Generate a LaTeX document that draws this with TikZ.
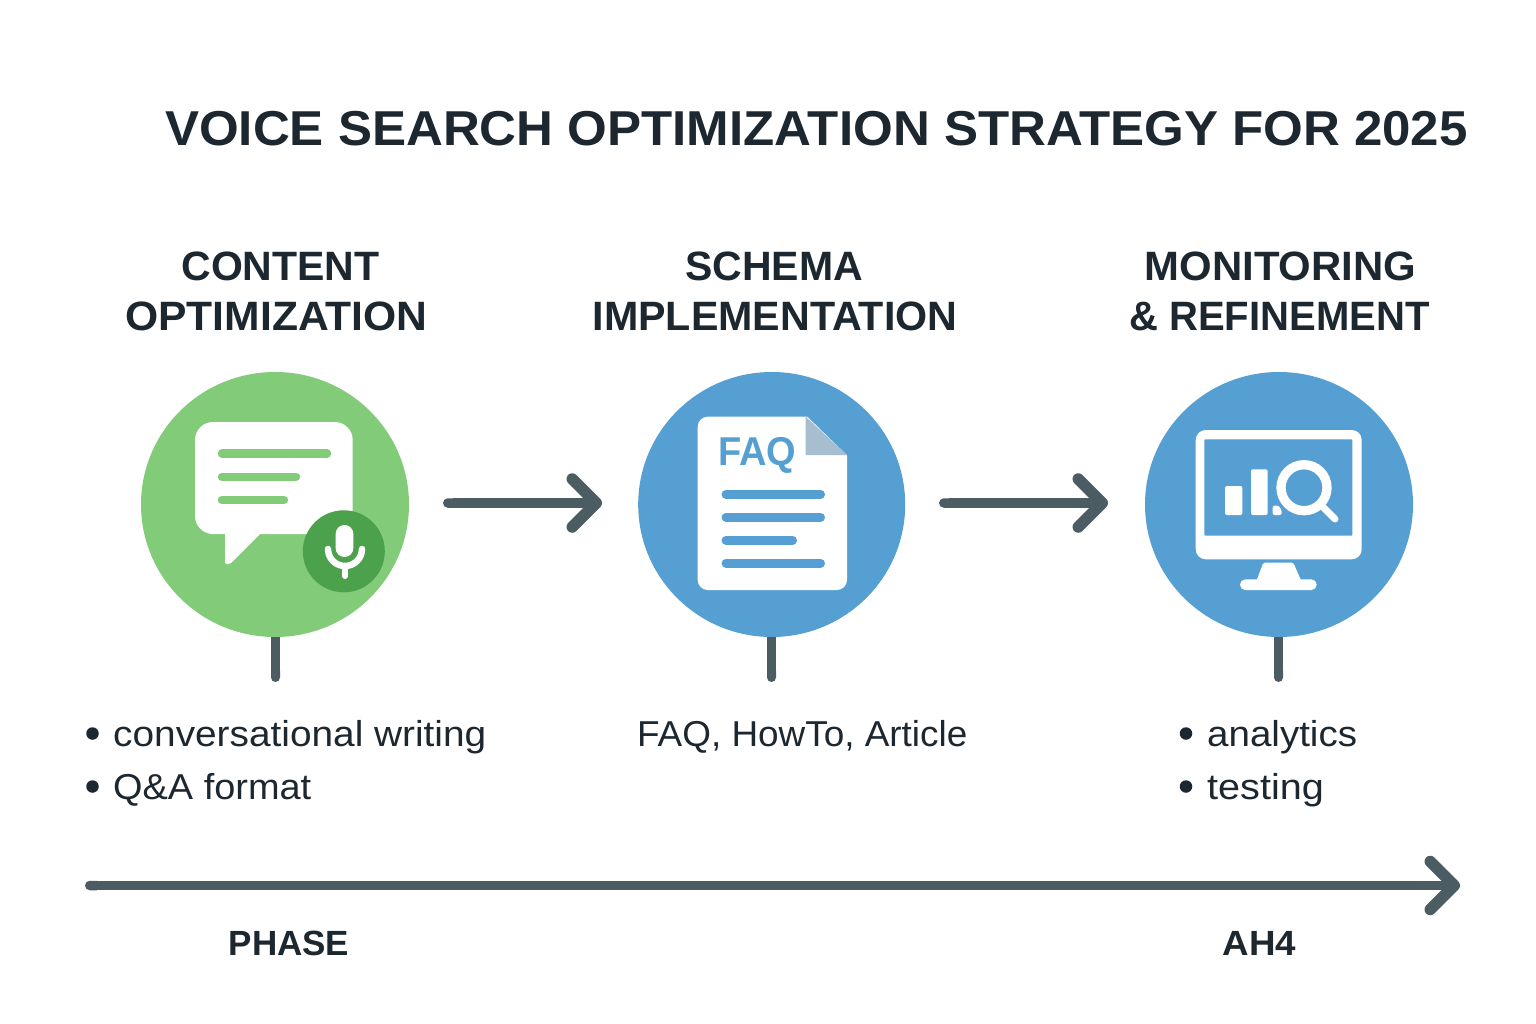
\documentclass[tikz,border=0pt]{standalone}
\usepackage{fontspec}
\usepackage{graphicx}
\usetikzlibrary{arrows.meta,shapes.geometric}
\setmainfont{Liberation Sans}
\newcommand{\xs}[2]{\scalebox{#1}[1]{#2}}
\definecolor{ink}{HTML}{1D2730}
\definecolor{slate}{HTML}{4C5C63}
\definecolor{greenc}{HTML}{82CB78}
\definecolor{greend}{HTML}{4CA14C}
\definecolor{bluec}{HTML}{569FD2}
\definecolor{foldc}{HTML}{A7BDD0}
\tikzset{
 disc/.style={ellipse,inner sep=0pt,minimum width=#1,minimum height=265pt,draw=none},
 flow/.style={draw=slate,line width=9.5pt,line join=round,{Round Cap[]}-{Straight Barb[length=24pt,width=48pt,round,line width=11.5pt]}},
 stem/.style={draw=slate,line width=9pt,-{Round Cap[]}},
 iconline/.style={line width=#1,line cap=round},
 head/.style={font=\fontsize{41}{49}\selectfont\bfseries,text=ink,inner sep=0pt,anchor=base},
 title/.style={font=\fontsize{49}{58}\selectfont\bfseries,text=ink,inner sep=0pt,anchor=base west},
 body/.style={font=\fontsize{36}{53}\selectfont,text=ink,inner sep=0pt,anchor=base west},
 foot/.style={font=\fontsize{35}{42}\selectfont\bfseries,text=ink,inner sep=0pt,anchor=base},
 dot/.style={circle,fill=ink,inner sep=0pt,minimum size=12.5pt}
}
\begin{document}
\begin{tikzpicture}[x=1pt,y=-1pt]
\useasboundingbox (0,0) rectangle (1536,1024);
\fill[white] (0,0) rectangle (1536,1024);
\node[title] (ttl) at (165,146) {\xs{1.0416}{VOICE SEARCH OPTIMIZATION STRATEGY FOR 2025}};
\node[head] (h1a) at (280.5,280) {CONTENT};
\node[head] (h1b) at (276.5,330) {\xs{1.04}{OPTIMIZATION}};
\node[head] (h2a) at (774,280) {SCHEMA};
\node[head] (h2b) at (775,330) {\xs{1.005}{IMPLEMENTATION}};
\node[head] (h3a) at (1280.5,280) {\xs{1.022}{MONITORING}};
\node[head] (h3b) at (1279.5,330) {\xs{0.977}{\& REFINEMENT}};
% circles and stems
\coordinate (s1) at (275.5,682);
\coordinate (s2) at (771.5,682);
\coordinate (s3) at (1278.5,682);
\node[disc=268pt,fill=greenc] (c1) at (275,504.5) {};
\node[disc=267pt,fill=bluec] (c2) at (771.7,504.5) {};
\node[disc=268pt,fill=bluec] (c3) at (1279,504.5) {};
\draw[stem] (c1.south -| s1) -- (s1);
\draw[stem] (c2.south -| s2) -- (s2);
\draw[stem] (c3.south -| s3) -- (s3);
% flow arrows
\coordinate (a1) at (443,503); \coordinate (a2) at (602,503);
\coordinate (b1) at (939,503); \coordinate (b2) at (1108,503);
\coordinate (t1) at (85,885.5); \coordinate (t2) at (1460,885.5);
\draw[flow] (a1) -- (a2);
\draw[flow] (b1) -- (b2);
\draw[flow] (t1) -- (t2);
% chat icon
\fill[white,rounded corners=18pt] (195,422) rectangle (352.7,534);
\fill[white,rounded corners=1.5pt] (225,530) -- (225,564) -- (230,564) -- (264,530) -- cycle;
\draw[greenc,iconline=8.5pt] (222,453.5) -- (327,453.5);
\draw[greenc,iconline=8.5pt] (222,477) -- (296,477);
\draw[greenc,iconline=8.5pt] (222,500) -- (284,500);
\node[circle,inner sep=0pt,minimum size=82pt,fill=greend] (mic) at (343.8,551.3) {};
\fill[white,rounded corners=8.7pt] (335.7,525) rectangle (353.3,557);
\draw[white,line width=6.5pt,line cap=round] (328,549) arc[start angle=180,end angle=0,radius=17];
\draw[white,line width=6pt,line cap=round] (345,566) -- (345,576);
% FAQ icon
\fill[white,rounded corners=10pt] (697.7,590) -- (697.7,416.7) -- (847,416.7) -- (847,590) -- cycle;
\fill[bluec] (805.7,415) -- (848,415) -- (848,456) -- cycle;
\fill[foldc] (805.7,416.7) -- (847,455) -- (805.7,455) -- cycle;
\node[font=\fontsize{38}{38}\selectfont\bfseries,text=bluec,inner sep=0pt,anchor=base west] (faq) at (718,465) {\scalebox{1}[1.06]{FAQ}};
\draw[bluec,iconline=9pt] (726,494.3) -- (820.5,494.3);
\draw[bluec,iconline=9pt] (726,517.3) -- (820.5,517.3);
\draw[bluec,iconline=9pt] (726,540.3) -- (792.5,540.3);
\draw[bluec,iconline=9pt] (726,563) -- (820.5,563);
% monitor icon
\fill[white,rounded corners=10pt] (1195.7,430) rectangle (1361.7,559.3);
\fill[bluec,rounded corners=1pt] (1204.3,439.3) rectangle (1352.3,535.7);
\fill[white,rounded corners=1.5pt] (1263.3,562.7) -- (1293.3,562.7) -- (1301.7,582) -- (1256,582) -- cycle;
\fill[white,rounded corners=5.3pt] (1240,579.3) rectangle (1316.7,590);
\fill[white,rounded corners=2pt] (1225,486) rectangle (1242.3,515);
\fill[white,rounded corners=2pt] (1251,469.3) rectangle (1267.7,515);
\fill[white,rounded corners=2pt] (1272.7,515) -- (1272.7,505.7) -- (1275,505.7) .. controls (1279,505.7) and (1281.7,509) .. (1281.7,515) -- cycle;
\draw[white,line width=9.3pt] (1304,487.7) circle[radius=23];
\draw[white,iconline=7pt] (1323,507) -- (1335,519);
% body text
\node[dot] (d1) at (92.5,733.5) {};
\node[body] (b1t) at (113,746) {\xs{1.078}{conversational writing}};
\node[dot] (d2) at (92.5,786.5) {};
\node[body] (b2t) at (113,799) {\xs{1.053}{Q\&A format}};
\node[body] (b3t) at (637,746) {\xs{1.025}{FAQ, HowTo, Article}};
\node[dot] (d3) at (1186,733.5) {};
\node[body] (b4t) at (1207,746) {\xs{1.07}{analytics}};
\node[dot] (d4) at (1186,786.5) {};
\node[body] (b5t) at (1207,799) {\xs{1.10}{testing}};
\node[foot] (p1) at (289,955) {PHASE};
\node[foot] (p2) at (1259.5,955) {\xs{1.05}{AH4}};
\end{tikzpicture}
\end{document}
